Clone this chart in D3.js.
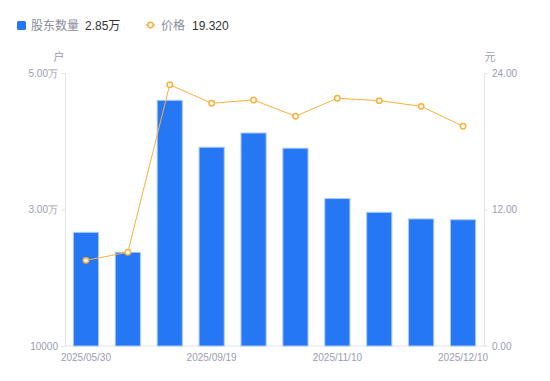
<!DOCTYPE html>
<html lang="zh">
  <head>
    <meta charset="UTF-8" />
    <title>股东数量与价格</title>
    <style>
      body {
        margin: 0;
        background: #fff;
      }
      svg {
        display: block;
        font-family: "Liberation Sans", "Noto Sans CJK SC", sans-serif;
      }
    </style>
  </head>
  <body>
    <svg id="chart"></svg>

    <script src="https://d3js.org/d3.v7.min.js"></script>
    <script>
      const width = 550;
      const height = 381;

      // data
      const dates = [
        "2025/05/30", "2025/06/30", "2025/08/29", "2025/09/19", "2025/09/30",
        "2025/10/20", "2025/11/10", "2025/11/20", "2025/11/28", "2025/12/10"
      ];
      const holders = [26650, 23730, 46000, 39120, 41210, 38980, 31600, 29590, 28620, 28500];
      const prices = [7.53, 8.24, 22.97, 21.34, 21.63, 20.2, 21.78, 21.57, 21.07, 19.32];
      const leftTicks = [10000, 30000, 50000];
      const rightTicks = [0, 12, 24];
      const shownDates = ["2025/05/30", "2025/09/19", "2025/11/10", "2025/12/10"];

      const barColor = "#2577f4";
      const lineColor = "#fbb03b";
      const axisColor = "#e3e4ea";
      const labelColor = "#9a9db0";

      const margin = { top: 73, right: 66, bottom: 35, left: 65 };
      const x0 = margin.left, x1 = width - margin.right;
      const y0 = height - margin.bottom, y1 = margin.top;

      const svg = d3.select("#chart").attr("width", width).attr("height", height);

      const x = d3.scaleBand().domain(dates).range([x0, x1]).padding(0);
      const barW = x.bandwidth() * 0.6;
      const cx = (d) => x(d) + x.bandwidth() / 2;

      const yL = d3.scaleLinear().domain([10000, 50000]).range([y0, y1]);
      const yR = d3.scaleLinear().domain([0, 24]).range([y0, y1]);

      const fmtL = (v) => (v === 10000 ? "10000" : (v / 10000).toFixed(2) + "万");

      // axes
      const leftAxis = svg.append("g")
        .attr("transform", `translate(${x0},0)`)
        .call(d3.axisLeft(yL).tickValues(leftTicks).tickFormat(fmtL).tickSize(4).tickPadding(3));
      const rightAxis = svg.append("g")
        .attr("transform", `translate(${x1},0)`)
        .call(d3.axisRight(yR).tickValues(rightTicks).tickFormat((v) => v.toFixed(2)).tickSize(3).tickPadding(5));
      const bottomAxis = svg.append("g")
        .attr("transform", `translate(0,${y0})`)
        .call(d3.axisBottom(x).tickValues(shownDates).tickSize(0).tickPadding(8));

      [leftAxis, rightAxis, bottomAxis].forEach((g) => {
        g.select(".domain").attr("stroke", axisColor);
        g.selectAll(".tick line").attr("stroke", axisColor);
        g.selectAll("text").attr("fill", labelColor).attr("font-size", 10);
      });
      bottomAxis.select(".domain").attr("d", `M${x0},0H${x1}`);

      // bars
      svg.append("g")
        .selectAll("rect")
        .data(holders)
        .join("rect")
        .attr("x", (d, i) => cx(dates[i]) - barW / 2)
        .attr("y", (d) => yL(d))
        .attr("width", barW)
        .attr("height", (d) => y0 - yL(d))
        .attr("fill", barColor)
        .attr("stroke", "#a9c9fb")
        .attr("stroke-width", 1);

      // price line
      const line = d3.line()
        .x((d, i) => cx(dates[i]))
        .y((d) => yR(d));
      svg.append("path")
        .datum(prices)
        .attr("d", line)
        .attr("fill", "none")
        .attr("stroke", lineColor)
        .attr("stroke-width", 1);
      svg.append("g")
        .selectAll("circle")
        .data(prices)
        .join("circle")
        .attr("cx", (d, i) => cx(dates[i]))
        .attr("cy", (d) => yR(d))
        .attr("r", 2.7)
        .attr("fill", "#fff")
        .attr("stroke", lineColor)
        .attr("stroke-width", 1.5);

      // unit labels
      svg.append("text").attr("x", 59).attr("y", 61).attr("text-anchor", "middle")
        .attr("font-size", 11).attr("fill", labelColor).text("户");
      svg.append("text").attr("x", 490).attr("y", 61).attr("text-anchor", "middle")
        .attr("font-size", 11).attr("fill", labelColor).text("元");

      // legend
      const legend = svg.append("g").attr("font-size", 12);
      legend.append("rect").attr("x", 17).attr("y", 21).attr("width", 9).attr("height", 9)
        .attr("rx", 1.5).attr("fill", barColor);
      legend.append("text").attr("x", 31).attr("y", 29.5).attr("fill", "#8a8d9c").text("股东数量");
      legend.append("text").attr("x", 85).attr("y", 29.5).attr("fill", "#333").text(
        (holders[holders.length - 1] / 10000).toFixed(2) + "万");
      legend.append("line").attr("x1", 146).attr("x2", 155).attr("y1", 25).attr("y2", 25)
        .attr("stroke", lineColor).attr("stroke-width", 1.5);
      legend.append("circle").attr("cx", 150.5).attr("cy", 25).attr("r", 2.7)
        .attr("fill", "#fff").attr("stroke", lineColor).attr("stroke-width", 1.5);
      legend.append("text").attr("x", 161).attr("y", 29.5).attr("fill", "#8a8d9c").text("价格");
      legend.append("text").attr("x", 192).attr("y", 29.5).attr("fill", "#333").text(
        prices[prices.length - 1].toFixed(3));
    </script>
  </body>
</html>
